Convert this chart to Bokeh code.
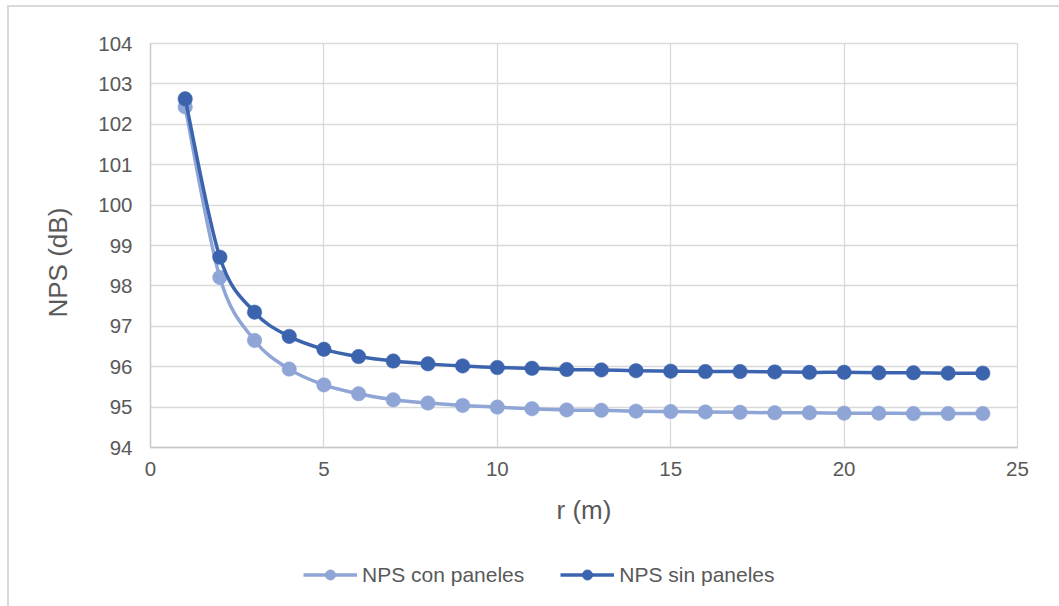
import numpy as np
from bokeh.plotting import figure
from bokeh.layouts import column
from bokeh.models import (ColumnDataSource, FixedTicker, Legend, LegendItem,
                          Title)
from bokeh.embed import file_html
from bokeh.resources import INLINE

# ---- data ----
r_m = [1, 2, 3, 4, 5, 6, 7, 8, 9, 10, 11, 12, 13, 14, 15, 16, 17, 18, 19, 20,
       21, 22, 23, 24]
nps_con_paneles = [102.43, 98.21, 96.65, 95.94, 95.55, 95.33, 95.18, 95.10,
                   95.04, 95.00, 94.96, 94.93, 94.92, 94.90, 94.89, 94.88,
                   94.87, 94.86, 94.86, 94.85, 94.85, 94.84, 94.84, 94.84]
nps_sin_paneles = [102.63, 98.71, 97.35, 96.75, 96.43, 96.25, 96.14, 96.07,
                   96.02, 95.98, 95.96, 95.93, 95.92, 95.90, 95.89, 95.88,
                   95.88, 95.87, 95.86, 95.86, 95.85, 95.85, 95.84, 95.84]
x_ticks = [0, 5, 10, 15, 20, 25]
y_ticks = [94, 95, 96, 97, 98, 99, 100, 101, 102, 103, 104]
series_names = ["NPS con paneles", "NPS sin paneles"]

LIGHT = "#8fa5d6"
DARK = "#3c64ae"
TXT = "#595959"
FONT = "Liberation Sans"


def smooth_segments(x, y):
    """Bezier control points (Catmull-Rom style smoothing) through the data."""
    x = np.asarray(x, float)
    y = np.asarray(y, float)
    n = len(x)
    xp = np.concatenate([[x[0]], x, [x[-1]]])
    yp = np.concatenate([[y[0]], y, [y[-1]]])
    return dict(
        x0=x[:-1], y0=y[:-1], x1=x[1:], y1=y[1:],
        cx0=x[:-1] + (xp[2:n + 1] - xp[0:n - 1]) / 6.0,
        cy0=y[:-1] + (yp[2:n + 1] - yp[0:n - 1]) / 6.0,
        cx1=x[1:] - (xp[3:n + 2] - xp[1:n]) / 6.0,
        cy1=y[1:] - (yp[3:n + 2] - yp[1:n]) / 6.0,
    )


# ---------------- main chart ----------------
p = figure(width=1059, height=560, x_range=(0, 25), y_range=(94, 104),
           output_backend="svg", toolbar_location=None,
           min_border_left=150, min_border_right=42,
           min_border_top=43, min_border_bottom=113)
p.background_fill_color = "white"
p.border_fill_color = None
p.outline_line_color = "#d9d9d9"
p.outline_line_width = 1.3

for ax in (p.xaxis, p.yaxis):
    ax.major_tick_line_color = None
    ax.minor_tick_line_color = None
    ax.major_tick_out = 0
    ax.major_tick_in = 0
    ax.minor_tick_out = 0
    ax.minor_tick_in = 0
    ax.axis_line_color = "#c8c8c8"
    ax.axis_line_width = 1.3
    ax.major_label_text_font = FONT
    ax.major_label_text_font_size = "20.5px"
    ax.major_label_text_color = TXT

p.xaxis.ticker = FixedTicker(ticks=x_ticks)
p.yaxis.ticker = FixedTicker(ticks=y_ticks)
p.xaxis.major_label_standoff = 14
p.yaxis.major_label_standoff = 18

p.xaxis.axis_label = "r (m)"
p.xaxis.axis_label_text_font = FONT
p.xaxis.axis_label_text_font_size = "26px"
p.xaxis.axis_label_text_font_style = "normal"
p.xaxis.axis_label_text_color = TXT
p.xaxis.axis_label_standoff = 16

p.xgrid.ticker = FixedTicker(ticks=x_ticks)
p.ygrid.ticker = FixedTicker(ticks=y_ticks)
for g in (p.xgrid, p.ygrid):
    g.grid_line_color = "#d9d9d9"
    g.grid_line_width = 1.3

# y axis title
p.add_layout(Title(text="NPS (dB)", align="left", offset=130, standoff=45,
                   text_font=FONT, text_font_size="26px",
                   text_font_style="normal", text_color=TXT), "left")

src_con = ColumnDataSource(smooth_segments(r_m, nps_con_paneles))
src_sin = ColumnDataSource(smooth_segments(r_m, nps_sin_paneles))

p.bezier(x0="x0", y0="y0", x1="x1", y1="y1", cx0="cx0", cy0="cy0",
         cx1="cx1", cy1="cy1", source=src_con, line_color=LIGHT,
         line_width=3.5)
p.scatter(r_m, nps_con_paneles, size=14.5, fill_color=LIGHT,
          line_color=LIGHT, line_width=0.5)
p.bezier(x0="x0", y0="y0", x1="x1", y1="y1", cx0="cx0", cy0="cy0",
         cx1="cx1", cy1="cy1", source=src_sin, line_color=DARK,
         line_width=3.5)
p.scatter(r_m, nps_sin_paneles, size=14.5, fill_color=DARK,
          line_color=DARK, line_width=0.5)

# ---------------- legend strip ----------------
pl = figure(width=1059, height=46, x_range=(100, 101), y_range=(0, 1),
            output_backend="svg", toolbar_location=None,
            x_axis_type=None, y_axis_type=None,
            min_border_left=0, min_border_right=0,
            min_border_top=0, min_border_bottom=0)
pl.grid.visible = False
pl.outline_line_color = None
pl.background_fill_alpha = 0
pl.border_fill_color = None

l_con = pl.line(r_m, nps_con_paneles, line_color=LIGHT, line_width=3.5)
m_con = pl.scatter(r_m, nps_con_paneles, size=14, fill_color=LIGHT,
                   line_color=LIGHT)
l_sin = pl.line(r_m, nps_sin_paneles, line_color=DARK, line_width=3.5)
m_sin = pl.scatter(r_m, nps_sin_paneles, size=14, fill_color=DARK,
                   line_color=DARK)

legend = Legend(items=[LegendItem(label=series_names[0], renderers=[l_con, m_con]),
                       LegendItem(label=series_names[1], renderers=[l_sin, m_sin])],
                orientation="horizontal", location=(153, 19),
                glyph_width=54, glyph_height=25, label_height=25,
                label_standoff=5, spacing=36, padding=0, margin=0,
                border_line_color=None, background_fill_alpha=0,
                label_text_font=FONT, label_text_font_size="21px",
                label_text_color=TXT)
pl.add_layout(legend)

layout = column(p, pl, spacing=0)
# outer chart-area border (light grey lines at left and top, as in the reference)
layout.styles = {
    "background-color": "white",
    "background-image": "linear-gradient(#d9d9d9, #d9d9d9), linear-gradient(#d9d9d9, #d9d9d9)",
    "background-size": "1060px 2px, 2px 610px",
    "background-position": "7px 5px, 7px 5px",
    "background-repeat": "no-repeat",
}

open("out.html", "w").write(file_html(layout, INLINE))
